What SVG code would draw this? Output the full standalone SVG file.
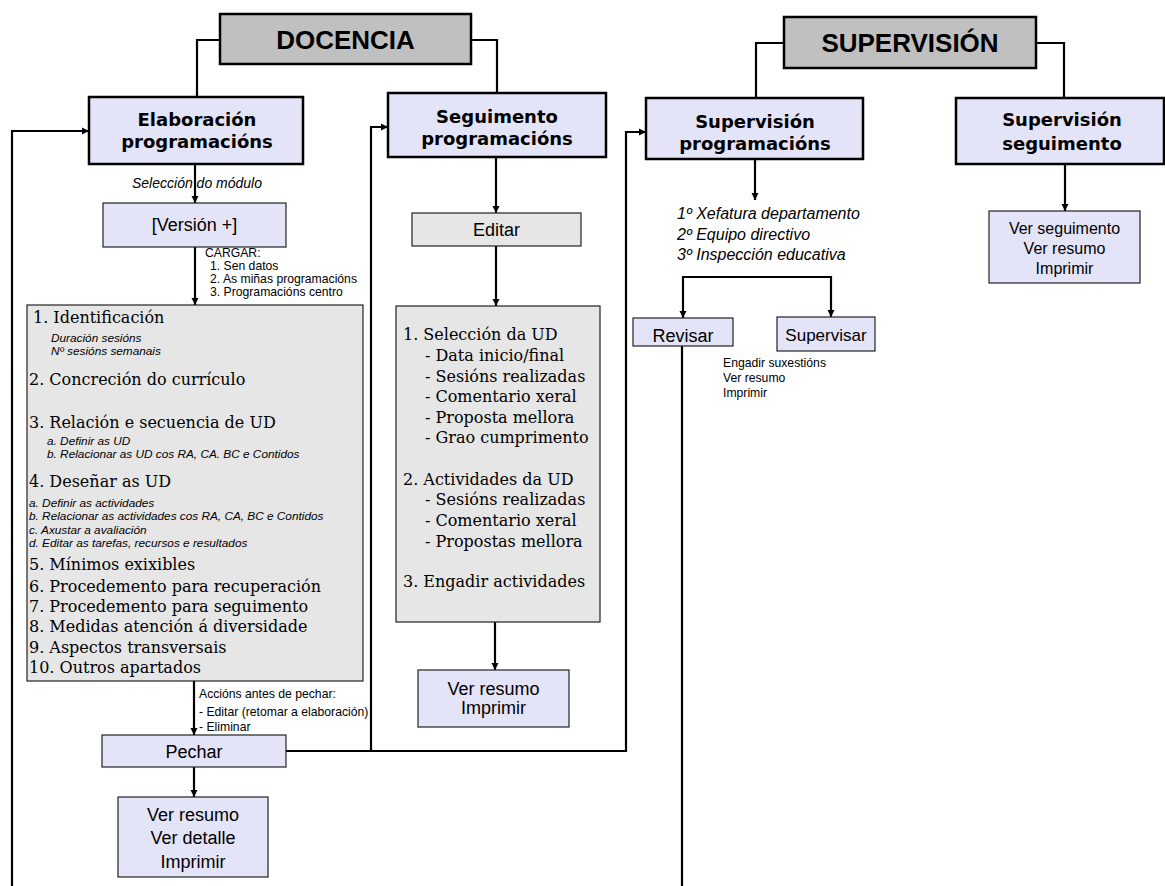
<svg xmlns="http://www.w3.org/2000/svg" width="1165" height="886" viewBox="0 0 1165 886">
<style>
.title{fill:#c0c0c0;stroke:#000;stroke-width:2.5}
.head{fill:#e4e4f8;stroke:#000;stroke-width:2.5}
.sub{fill:#e4e4f8;stroke:#222;stroke-width:1.2}
.gray{fill:#e6e6e6;stroke:#222;stroke-width:1.2}
.t-title{font-family:"Liberation Sans",Arial,sans-serif;font-weight:bold;font-size:26px;text-anchor:middle;fill:#000}
.t-head{font-family:"DejaVu Sans",Verdana,sans-serif;font-weight:bold;font-size:18px;text-anchor:middle;fill:#000}
.t-box{font-family:"Liberation Sans",Arial,sans-serif;font-size:18px;text-anchor:middle;fill:#000}
.t-ser{font-family:"DejaVu Serif",serif;font-size:16px;fill:#000}
.t-it{font-family:"Liberation Sans",Arial,sans-serif;font-style:italic;font-size:11.8px;fill:#000}
.t-sm{font-family:"Liberation Sans",Arial,sans-serif;font-size:12.2px;fill:#000}
.t-itl{font-family:"Liberation Sans",Arial,sans-serif;font-style:italic;font-size:16px;fill:#000}
.c{fill:none;stroke:#000;stroke-width:2.2}
.ca{fill:none;stroke:#000;stroke-width:2.2;marker-end:url(#ah)}
</style>
<defs>
<marker id="ah" markerUnits="userSpaceOnUse" markerWidth="8" markerHeight="8" refX="7" refY="4" orient="auto">
<path d="M0,0.5 L7,4 L0,7.5 z" fill="#000"/>
</marker>
</defs>

<g id="connectors">
<path class="c" d="M220,40 H197 V97"/>
<path class="c" d="M471,40 H497 V93"/>
<path class="c" d="M784,43 H756 V98"/>
<path class="c" d="M1036,43 H1064 V98"/>
<path class="ca" d="M195,164 V203"/>
<path class="ca" d="M195,247 V305"/>
<path class="ca" d="M194,681 V735"/>
<path class="ca" d="M194,767 V797"/>
<path class="ca" d="M286,751 H371 V127 H388"/>
<path class="ca" d="M371,751 H626 V132 H646"/>
<path class="ca" d="M12,886 V131 H89"/>
<path class="c" d="M682,346 V886"/>
<path class="ca" d="M496,157 V213"/>
<path class="ca" d="M496,246 V306"/>
<path class="ca" d="M495,622 V670"/>
<path class="ca" d="M755,159 V200"/>
<path class="c" d="M683,277 H831"/>
<path class="ca" d="M683,276 V318"/>
<path class="ca" d="M831,276 V317"/>
<path class="ca" d="M1065,164 V211"/>
</g>

<g id="docencia">
<rect class="title" x="220" y="14" width="251" height="50"/>
<text class="t-title" x="345.5" y="49">DOCENCIA</text>
</g>
<g id="supervision">
<rect class="title" x="784" y="17" width="252" height="51"/>
<text class="t-title" x="910" y="52">SUPERVISIÓN</text>
</g>

<g id="elaboracion">
<rect class="head" x="89" y="97" width="214" height="67"/>
<text class="t-head" x="197" y="126">Elaboración</text>
<text class="t-head" x="197" y="148">programacións</text>
</g>
<g id="seguimento">
<rect class="head" x="388" y="93" width="218" height="64"/>
<text class="t-head" x="497" y="123">Seguimento</text>
<text class="t-head" x="497" y="145">programacións</text>
</g>
<g id="sup-programacions">
<rect class="head" x="646" y="98" width="217" height="61"/>
<text class="t-head" x="755" y="128">Supervisión</text>
<text class="t-head" x="755" y="150">programacións</text>
</g>
<g id="sup-seguimento">
<rect class="head" x="956" y="98" width="208" height="66"/>
<text class="t-head" x="1062" y="126">Supervisión</text>
<text class="t-head" x="1062" y="150">seguimento</text>
</g>

<g id="label-seleccion">
<text class="t-it" x="132" y="188" style="font-size:14px">Selección do módulo</text>
</g>

<g id="version">
<rect class="sub" x="103" y="203" width="183" height="44"/>
<text class="t-box" x="194.5" y="231">[Versión +]</text>
</g>

<g id="label-cargar">
<text class="t-sm" x="205" y="257">CARGAR:</text>
<text class="t-sm" x="210" y="270">1. Sen datos</text>
<text class="t-sm" x="210" y="283">2. As miñas programacións</text>
<text class="t-sm" x="210" y="296">3. Programacións centro</text>
</g>

<g id="elaboracion-contido">
<rect class="gray" x="27" y="305" width="336" height="376"/>
<text class="t-ser" x="33" y="323">1. Identificación</text>
<text class="t-it" x="51" y="342">Duración sesións</text>
<text class="t-it" x="51" y="355">Nº sesións semanais</text>
<text class="t-ser" x="29" y="385">2. Concreción do currículo</text>
<text class="t-ser" x="29" y="428">3. Relación e secuencia de UD</text>
<text class="t-it" x="47" y="445">a. Definir as UD</text>
<text class="t-it" x="47" y="458">b. Relacionar as UD cos RA, CA. BC e Contidos</text>
<text class="t-ser" x="29" y="487">4. Deseñar as UD</text>
<text class="t-it" x="29" y="507">a. Definir as actividades</text>
<text class="t-it" x="29" y="520">b. Relacionar as actividades cos RA, CA, BC e Contidos</text>
<text class="t-it" x="29" y="534">c. Axustar a avaliación</text>
<text class="t-it" x="29" y="547">d. Editar as tarefas, recursos e resultados</text>
<text class="t-ser" x="29" y="570">5. Mínimos exixibles</text>
<text class="t-ser" x="29" y="592">6. Procedemento para recuperación</text>
<text class="t-ser" x="29" y="612">7. Procedemento para seguimento</text>
<text class="t-ser" x="29" y="632">8. Medidas atención á diversidade</text>
<text class="t-ser" x="29" y="653">9. Aspectos transversais</text>
<text class="t-ser" x="29" y="673">10. Outros apartados</text>
</g>

<g id="label-accions">
<text class="t-sm" x="199" y="698">Accións antes de pechar:</text>
<text class="t-sm" x="199" y="716">- Editar (retomar a elaboración)</text>
<text class="t-sm" x="199" y="731">- Eliminar</text>
</g>

<g id="pechar">
<rect class="sub" x="102" y="735" width="184" height="32"/>
<text class="t-box" x="194" y="758">Pechar</text>
</g>
<g id="ver-resumo-elab">
<rect class="sub" x="118" y="797" width="150" height="80"/>
<text class="t-box" x="193" y="821">Ver resumo</text>
<text class="t-box" x="193" y="844">Ver detalle</text>
<text class="t-box" x="193" y="868">Imprimir</text>
</g>

<g id="editar">
<rect class="gray" x="412" y="213" width="169" height="33"/>
<text class="t-box" x="496.5" y="236">Editar</text>
</g>

<g id="seguimento-contido">
<rect class="gray" x="396" y="306" width="204" height="316"/>
<text class="t-ser" x="403" y="340">1. Selección da UD</text>
<text class="t-ser" x="425" y="361">- Data inicio/final</text>
<text class="t-ser" x="425" y="382">- Sesións realizadas</text>
<text class="t-ser" x="425" y="402">- Comentario xeral</text>
<text class="t-ser" x="425" y="423">- Proposta mellora</text>
<text class="t-ser" x="425" y="443">- Grao cumprimento</text>
<text class="t-ser" x="403" y="485">2. Actividades da UD</text>
<text class="t-ser" x="425" y="505">- Sesións realizadas</text>
<text class="t-ser" x="425" y="526">- Comentario xeral</text>
<text class="t-ser" x="425" y="547">- Propostas mellora</text>
<text class="t-ser" x="403" y="587">3. Engadir actividades</text>
</g>

<g id="ver-resumo-seg">
<rect class="sub" x="418" y="670" width="151" height="57"/>
<text class="t-box" x="493.5" y="695">Ver resumo</text>
<text class="t-box" x="493.5" y="714">Imprimir</text>
</g>

<g id="label-orde">
<text class="t-itl" x="677" y="219">1º Xefatura departamento</text>
<text class="t-itl" x="677" y="240">2º Equipo directivo</text>
<text class="t-itl" x="677" y="260">3º Inspección educativa</text>
</g>

<g id="revisar">
<rect class="sub" x="633" y="318" width="100" height="28"/>
<text class="t-box" x="683" y="342">Revisar</text>
</g>
<g id="supervisar">
<rect class="sub" x="777" y="317" width="98" height="34"/>
<text class="t-box" x="826" y="341" style="font-size:17px">Supervisar</text>
</g>
<g id="label-supervisar">
<text class="t-sm" x="723" y="367">Engadir suxestións</text>
<text class="t-sm" x="723" y="382">Ver resumo</text>
<text class="t-sm" x="723" y="397">Imprimir</text>
</g>

<g id="ver-seguimento">
<rect class="sub" x="989" y="211" width="151" height="72"/>
<text class="t-box" x="1064.5" y="234" style="font-size:16px">Ver seguimento</text>
<text class="t-box" x="1064.5" y="254" style="font-size:16px">Ver resumo</text>
<text class="t-box" x="1064.5" y="274" style="font-size:16px">Imprimir</text>
</g>
</svg>
